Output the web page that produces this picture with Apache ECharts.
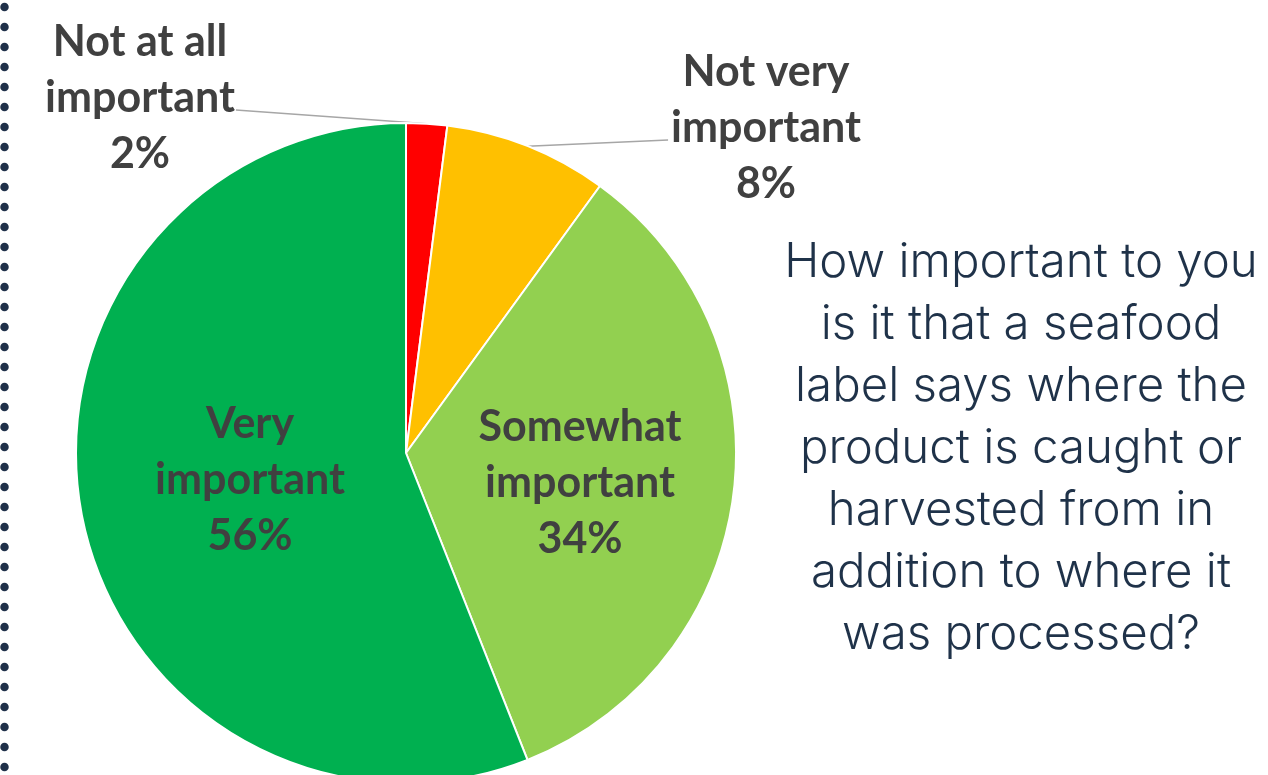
<!DOCTYPE html>
<html>
<head>
<meta charset="utf-8">
<title>Seafood label origin importance</title>
<script src="https://cdn.jsdelivr.net/npm/echarts@6/dist/echarts.min.js"></script>
<style>
  html, body { margin: 0; padding: 0; background: #ffffff; }
  #chart { width: 1268px; height: 775px; }
</style>
</head>
<body>
<div id="chart"></div>
<script>
// Survey answers, clockwise from 12 o'clock
const categories = ['Not at all\nimportant', 'Not very\nimportant', 'Somewhat\nimportant', 'Very\nimportant'];
const shares = [2, 8, 34, 56];
const sliceColors = ['#FF0000', '#FFC000', '#92D050', '#00B050'];

// Question text shown beside the pie
const questionLines = [
  'How important to you',
  'is it that a seafood',
  'label says where the',
  'product is caught or',
  'harvested from in',
  'addition to where it',
  'was processed?'
];

// Where each slice label sits, and which side its leader line leaves from
const labelSpots = [
  { x: 140, y: 98, lineFrom: 'right' },
  { x: 766, y: 128, lineFrom: 'left' },
  { x: 580, y: 483 },
  { x: 250, y: 480 }
];

const chart = echarts.init(document.getElementById('chart'), null, { renderer: 'canvas' });

const pieData = categories.map(function (name, i) {
  const outside = !!labelSpots[i].lineFrom;
  return {
    name: name,
    value: shares[i],
    itemStyle: { color: sliceColors[i] },
    label: { position: outside ? 'outside' : 'inside' },
    labelLine: { show: outside }
  };
});

chart.setOption({
  animation: false,
  backgroundColor: '#ffffff',
  graphic: [
    {
      type: 'line',
      silent: true,
      shape: { x1: 4.5, y1: 7, x2: 4.5, y2: 790 },
      style: { stroke: '#1f3049', lineWidth: 8.5, lineDash: [0.1, 19.9], lineCap: 'round' }
    },
    {
      type: 'text',
      silent: true,
      x: 1021,
      y: 449,
      style: {
        text: questionLines.join('\n'),
        fill: '#1f3249',
        font: '300 47.4px Inter, "Noto Sans", sans-serif',
        lineHeight: 62,
        align: 'center',
        verticalAlign: 'middle'
      }
    }
  ],
  series: [
    {
      type: 'pie',
      center: [406, 453],
      radius: 330,
      startAngle: 90,
      clockwise: true,
      avoidLabelOverlap: false,
      emphasis: { disabled: true },
      itemStyle: { borderColor: '#ffffff', borderWidth: 2 },
      label: {
        show: true,
        formatter: '{b}\n{c}%',
        color: '#404040',
        fontFamily: 'Lato, "Open Sans", sans-serif',
        fontWeight: 'bold',
        fontSize: 43,
        lineHeight: 56,
        align: 'center'
      },
      labelLine: {
        length: 0,
        length2: 0,
        lineStyle: { color: '#a6a6a6', width: 1.5 }
      },
      labelLayout: function (p) {
        const spot = labelSpots[p.dataIndex];
        const out = { x: spot.x, y: spot.y, align: 'center', verticalAlign: 'middle' };
        if (spot.lineFrom && p.labelLinePoints) {
          const half = p.labelRect.width / 2;
          const edgeX = spot.lineFrom === 'right' ? spot.x + half + 1 : spot.x - half - 3;
          const edgeY = spot.y + 12;
          const anchor = p.labelLinePoints[0];
          out.labelLinePoints = [anchor, [edgeX, edgeY], [edgeX, edgeY]];
        }
        return out;
      },
      data: pieData
    }
  ]
});
</script>
</body>
</html>
